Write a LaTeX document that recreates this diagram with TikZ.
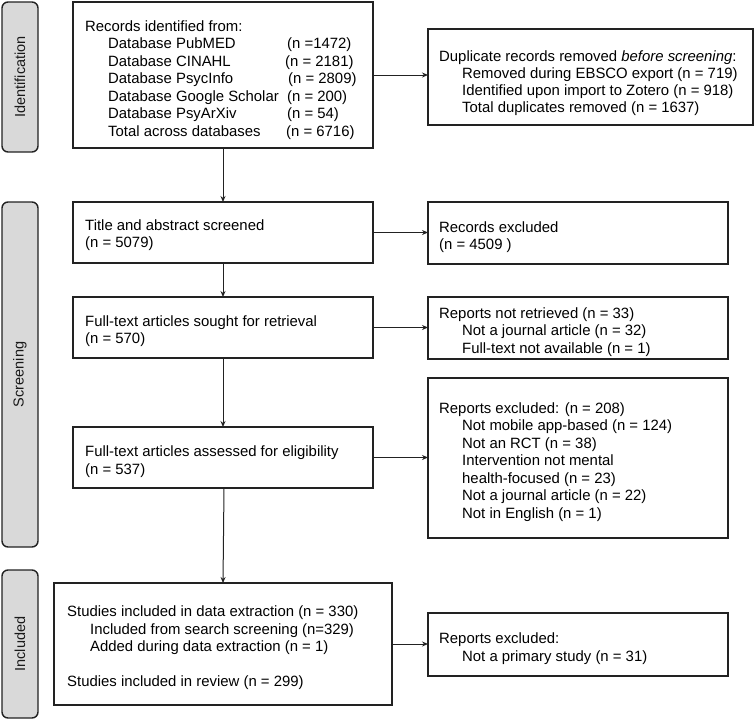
\documentclass[tikz,border=0pt]{standalone}
\usepackage{fontspec}
\setmainfont{Liberation Sans}
\usetikzlibrary{arrows.meta}
\definecolor{linecol}{HTML}{222222}
\definecolor{sidefill}{HTML}{D9D9D9}
\begin{document}
\begin{tikzpicture}[x=1pt,y=-1pt,
  box/.style={draw=linecol,line width=1.3pt,inner sep=0pt,outer sep=0pt,anchor=north west},
  txt/.style={anchor=west,inner sep=0pt,align=left,font=\fontsize{14.9}{17.5}\selectfont,text=black},
  side/.style={draw=linecol,fill=sidefill,line width=1.4pt,rounded corners=6pt,inner sep=0pt,outer sep=0pt,anchor=north west},
  sidetxt/.style={rotate=90,inner sep=0pt,font=\fontsize{14.5}{17}\selectfont,text=black!90},
  arr/.style={draw=linecol,line width=1pt,-{Stealth[length=6pt,width=5pt]}}]
\useasboundingbox (0,0) rectangle (755,723);
% side labels
\node[side,minimum width=36pt,minimum height=150pt] (sid) at (2,2) {};
\node[sidetxt] (sidt) at (sid.center) {Identification};
\node[side,minimum width=36pt,minimum height=345pt] (sscr) at (2,202) {};
\node[sidetxt] (sscrt) at (sscr.center) {Screening};
\node[side,minimum width=36pt,minimum height=148pt] (sinc) at (2,570) {};
\node[sidetxt] (sinct) at (sinc.center) {Included};
% main column boxes
\node[box,minimum width=300pt,minimum height=146pt] (b1) at (73,2) {};
\node[txt] (b1t) at ([xshift=12pt,yshift=-5pt]b1.west) {Records identified from:\\
\hspace*{23pt}\makebox[179pt][l]{Database PubMED}(n =1472)\\
\hspace*{23pt}\makebox[177pt][l]{Database CINAHL}(n = 2181)\\
\hspace*{23pt}\makebox[180pt][l]{Database PsycInfo}(n = 2809)\\
\hspace*{23pt}\makebox[179pt][l]{Database Google Scholar}(n = 200)\\
\hspace*{23pt}\makebox[179pt][l]{Database PsyArXiv}(n = 54)\\
\hspace*{23pt}\makebox[178pt][l]{Total across databases}(n = 6716)};
\node[box,minimum width=300pt,minimum height=61pt] (b2) at (73,202) {};
\node[txt] (b2t) at ([xshift=12pt,yshift=-2.5pt]b2.west) {Title and abstract screened\\(n = 5079)};
\node[box,minimum width=300pt,minimum height=61pt] (b3) at (73,297) {};
\node[txt] (b3t) at ([xshift=12pt,yshift=-3.5pt]b3.west) {Full-text articles sought for retrieval\\(n = 570)};
\node[box,minimum width=300pt,minimum height=61pt] (b4) at (73,427) {};
\node[txt] (b4t) at ([xshift=12pt,yshift=-4pt]b4.west) {Full-text articles assessed for eligibility\\(n = 537)};
\node[box,minimum width=338pt,minimum height=122pt] (b5) at (54,583) {};
\node[txt] (b5t) at ([xshift=13pt,yshift=-4pt]b5.west) {Studies included in data extraction (n = 330)\\
\hspace*{23pt}Included from search screening (n=329)\\
\hspace*{23pt}Added during data extraction (n = 1)\\[17.5pt]
Studies included in review (n = 299)};
% right column boxes
\node[box,minimum width=325pt,minimum height=96pt] (r1) at (428,29) {};
\node[txt,font=\fontsize{14.9}{16.8}\selectfont] (r1t) at ([xshift=11pt,yshift=-6pt]r1.west) {Duplicate records removed \textit{before screening}:\\
\hspace*{23pt}Removed during EBSCO export (n = 719)\\
\hspace*{23pt}Identified upon import to Zotero (n = 918)\\
\hspace*{23pt}Total duplicates removed (n = 1637)};
\node[box,minimum width=300pt,minimum height=62pt] (r2) at (428,202) {};
\node[txt] (r2t) at ([xshift=11pt,yshift=-4pt]r2.west) {Records excluded\\(n = 4509 )};
\node[box,minimum width=300pt,minimum height=62pt] (r3) at (428,297) {};
\node[txt] (r3t) at ([xshift=11pt,yshift=-4pt]r3.west) {Reports not retrieved (n = 33)\\
\hspace*{23pt}Not a journal article (n = 32)\\
\hspace*{23pt}Full-text not available (n = 1)};
\node[box,minimum width=300pt,minimum height=160pt] (r4) at (428,378) {};
\node[txt] (r4t) at ([xshift=11pt,yshift=-4pt]r4.west) {Reports excluded: (n = 208)\\
\hspace*{23pt}Not mobile app-based (n = 124)\\
\hspace*{23pt}Not an RCT (n = 38)\\
\hspace*{23pt}Intervention not mental\\
\hspace*{23pt}health-focused (n = 23)\\
\hspace*{23pt}Not a journal article (n = 22)\\
\hspace*{23pt}Not in English (n = 1)};
\node[box,minimum width=300pt,minimum height=63pt] (r5) at (428,613) {};
\node[txt] (r5t) at ([xshift=11pt,yshift=-4pt]r5.west) {Reports excluded:\\
\hspace*{23pt}Not a primary study (n = 31)};
% connectors
\draw[arr] (b1.south) -- (b2.north);
\draw[arr] (b2.south) -- (b3.north);
\draw[arr] (b3.south) -- (b4.north);
\draw[arr] ([xshift=1pt]b4.south) -- (b5.north -| b4.south);
\draw[arr] (b1.east) -- (b1.east -| r1.west);
\draw[arr] (b2.east) -- (b2.east -| r2.west);
\draw[arr] (b3.east) -- (b3.east -| r3.west);
\draw[arr] (b4.east) -- (b4.east -| r4.west);
\draw[arr] (b5.east) -- (b5.east -| r5.west);
\end{tikzpicture}
\end{document}
